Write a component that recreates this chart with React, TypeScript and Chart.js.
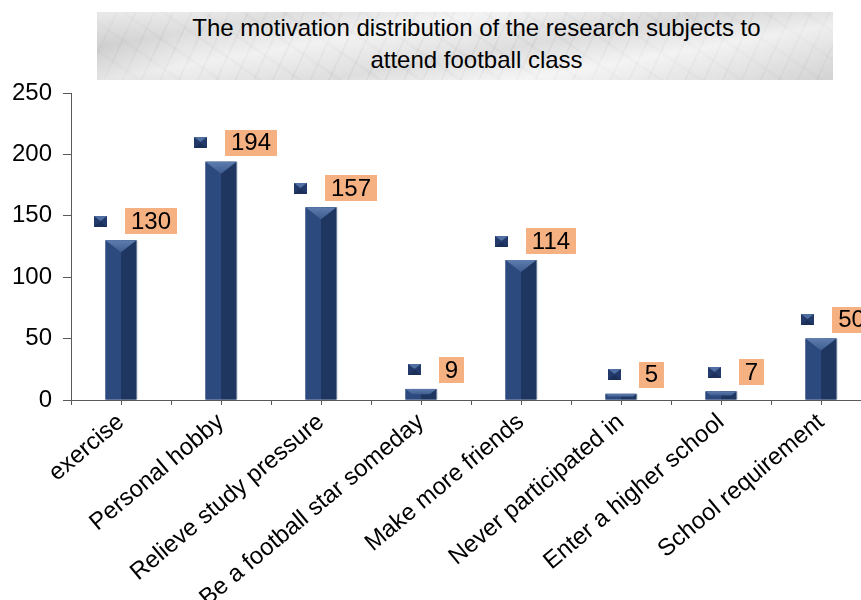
import React, { useEffect, useRef } from "react";
import { Chart, registerables } from "chart.js";

Chart.register(...registerables);

const titleLines = ["The motivation distribution of the research subjects to", "attend football class"];
const categories = [
  "exercise",
  "Personal hobby",
  "Relieve study pressure",
  "Be a football star someday",
  "Make more friends",
  "Never participated in",
  "Enter a higher school",
  "School requirement",
];
const counts = [130, 194, 157, 9, 114, 5, 7, 50];
const yTicks = [0, 50, 100, 150, 200, 250];

const FONT = "'Liberation Sans', Arial, Helvetica, sans-serif";
const AXIS = "#595959";

const barStylePlugin = {
  id: "barStyle",
  afterDatasetsDraw(chart: any) {
    const ctx = chart.ctx;
    const meta = chart.getDatasetMeta(0);
    ctx.save();
    meta.data.forEach((el: any) => {
      const { x, y, base, width } = el.getProps(["x", "y", "base", "width"], true);
      const l = x - width / 2;
      const r = x + width / 2;
      const t = Math.min(y, base);
      const b = Math.max(y, base);
      const h = b - t;
      // left face
      ctx.fillStyle = "#2C4A7E";
      ctx.fillRect(l, t, x - l, h);
      // right face darker
      ctx.fillStyle = "#1F3660";
      ctx.fillRect(x, t, r - x, h);
      // top bevel
      const d = Math.min(12, h / 2);
      const inner = (width / 2) * (1 - d / 12);
      const g = ctx.createLinearGradient(0, t, 0, t + d);
      g.addColorStop(0, "#5E7DAE");
      g.addColorStop(1, "#3E5C8E");
      ctx.fillStyle = g;
      ctx.beginPath();
      ctx.moveTo(l, t);
      ctx.lineTo(r, t);
      ctx.lineTo(x + inner, t + d);
      ctx.lineTo(x - inner, t + d);
      ctx.closePath();
      ctx.fill();
      // subtle right edge shadow
      ctx.fillStyle = "rgba(150,160,175,0.6)";
      ctx.fillRect(r, t, 1, h);
    });
    ctx.restore();
  },
};

const axisTicksPlugin = {
  id: "axisTicks",
  afterDraw(chart: any) {
    const ctx = chart.ctx;
    const xs = chart.scales.x;
    const ys = chart.scales.y;
    const y0 = ys.getPixelForValue(0);
    const half = (xs.getPixelForValue(1) - xs.getPixelForValue(0)) / 2;
    ctx.save();
    ctx.strokeStyle = AXIS;
    ctx.lineWidth = 1;
    ctx.beginPath();
    categories.forEach((_, i) => {
      const c = xs.getPixelForValue(i);
      const pts = [c - half, c];
      if (i === categories.length - 1) pts.push(c + half);
      pts.forEach((px) => {
        const xx = Math.round(px) + 0.5;
        ctx.moveTo(xx, y0);
        ctx.lineTo(xx, y0 + 5);
      });
    });
    ctx.stroke();
    ctx.restore();
  },
};

const valueLabelPlugin = {
  id: "valueLabels",
  afterDraw(chart: any) {
    const ctx = chart.ctx;
    const meta = chart.getDatasetMeta(0);
    ctx.save();
    ctx.font = `24px ${FONT}`;
    ctx.textAlign = "center";
    ctx.textBaseline = "middle";
    meta.data.forEach((el: any, i: number) => {
      const { x, y } = el.getProps(["x", "y"], true);
      const txt = String(counts[i]);
      const tw = ctx.measureText(txt).width;
      const boxW = Math.round(tw + 12);
      const boxH = 26;
      const mW = 13;
      const mH = 11;
      const gap = 18;
      const total = mW + gap + boxW;
      const left = Math.round(x + 14.5 - total / 2);
      const cy = y - 19;
      // marker
      const mx = left;
      const my = Math.round(cy - mH / 2);
      ctx.fillStyle = "#22396A";
      ctx.fillRect(mx, my, mW, mH);
      ctx.fillStyle = "#4F6FA3";
      ctx.beginPath();
      ctx.moveTo(mx, my);
      ctx.lineTo(mx + mW, my);
      ctx.lineTo(mx + mW / 2, my + 5);
      ctx.closePath();
      ctx.fill();
      ctx.fillStyle = "#1B2F58";
      ctx.beginPath();
      ctx.moveTo(mx, my + mH);
      ctx.lineTo(mx + mW, my + mH);
      ctx.lineTo(mx + mW / 2, my + 6);
      ctx.closePath();
      ctx.fill();
      // box
      const bx = left + mW + gap;
      const by = Math.round(cy - boxH / 2);
      ctx.fillStyle = "#F6B183";
      ctx.fillRect(bx, by, boxW, boxH);
      ctx.fillStyle = "#000";
      ctx.fillText(txt, bx + boxW / 2, cy + 1);
    });
    ctx.restore();
  },
};

function ChartCanvas() {
  const ref = useRef<HTMLCanvasElement | null>(null);
  useEffect(() => {
    if (!ref.current) return;
    const chart = new Chart(ref.current, {
      type: "bar",
      data: {
        labels: categories,
        datasets: [
          {
            data: counts,
            backgroundColor: "#2C4A7E",
            borderWidth: 0,
            barPercentage: 0.31,
            categoryPercentage: 1,
          },
        ],
      },
      options: {
        responsive: false,
        animation: false,
        devicePixelRatio: 1,
        layout: { padding: { top: 93, right: 29, left: 0, bottom: 0 } },
        plugins: {
          legend: { display: false },
          tooltip: { enabled: false },
          title: { display: false },
        },
        scales: {
          x: {
            grid: { display: false, drawTicks: false },
            border: { display: true, color: AXIS, width: 1 },
            ticks: {
              autoSkip: false,
              maxRotation: 40,
              minRotation: 40,
              padding: 8,
              color: "#000",
              font: { family: FONT, size: 24 },
            },
            afterFit: (s: any) => {
              s.height = 200;
            },
          },
          y: {
            min: 0,
            max: 250,
            afterBuildTicks: (s: any) => {
              s.ticks = yTicks.map((v) => ({ value: v }));
            },
            grid: {
              drawOnChartArea: false,
              drawTicks: true,
              tickLength: 8,
              color: AXIS,
            },
            border: { display: true, color: AXIS, width: 1 },
            ticks: {
              padding: 11,
              color: "#000",
              font: { family: FONT, size: 24 },
            },
            afterFit: (s: any) => {
              s.width = 71;
            },
          },
        },
      },
      plugins: [barStylePlugin, axisTicksPlugin, valueLabelPlugin],
    });
    return () => chart.destroy();
  }, []);
  return <canvas ref={ref} width={900} height={600} style={{ display: "block" }} />;
}

export default function App() {
  const marble =
    "linear-gradient(170deg, rgba(255,255,255,0.55) 0%, rgba(205,205,205,0.35) 18%, rgba(250,250,250,0.5) 35%, rgba(195,195,195,0.3) 55%, rgba(255,255,255,0.55) 72%, rgba(200,200,200,0.4) 100%)," +
    "repeating-linear-gradient(115deg, rgba(140,140,140,0.12) 0px, rgba(140,140,140,0.12) 2px, rgba(255,255,255,0) 2px, rgba(255,255,255,0) 17px)," +
    "repeating-linear-gradient(35deg, rgba(160,160,160,0.10) 0px, rgba(160,160,160,0.10) 3px, rgba(255,255,255,0) 3px, rgba(255,255,255,0) 23px)," +
    "linear-gradient(90deg, #cfcfcf 0%, #e6e6e6 12%, #ececec 50%, #e2e2e2 85%, #d9d9d9 100%)";
  return (
    <div
      style={{
        position: "fixed",
        left: 0,
        top: 0,
        width: 861,
        height: 600,
        overflow: "hidden",
        background: "#fff",
      }}
    >
      <div style={{ position: "absolute", left: 0, top: 0 }}>
        <ChartCanvas />
      </div>
      <div
        style={{
          position: "absolute",
          left: 97,
          top: 12,
          width: 736,
          height: 68,
          backgroundImage: marble,
        }}
      />
      <div
        style={{
          position: "absolute",
          left: 97,
          top: 12,
          width: 736 - 23,
          paddingLeft: 23,
          textAlign: "center",
          fontFamily: FONT,
          fontSize: 24,
          lineHeight: "32px",
          color: "#000",
          whiteSpace: "nowrap",
        }}
      >
        {titleLines.map((t) => (
          <div key={t}>{t}</div>
        ))}
      </div>
    </div>
  );
}
